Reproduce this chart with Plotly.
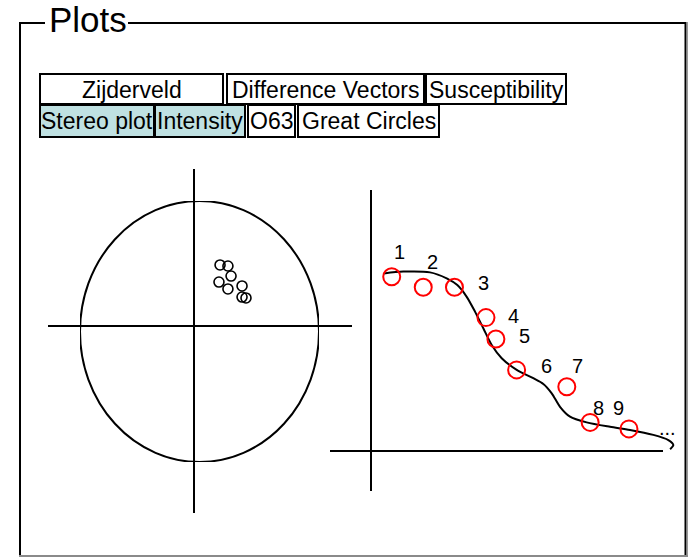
import plotly.graph_objects as go

W, H = 697, 557

# ---------------- data ----------------
# Stereo plot: projected directions (east, north) on the unit net
stereo_east = [0.172, 0.238, 0.264, 0.163, 0.238, 0.356, 0.356, 0.389]
stereo_north = [0.510, 0.502, 0.425, 0.379, 0.326, 0.349, 0.264, 0.257]

# Intensity plot: demagnetisation steps
step_field = [7.1, 17.9, 28.6, 39.4, 42.8, 49.9, 67.1, 75.1, 88.4]
step_intensity = [0.670, 0.630, 0.630, 0.513, 0.431, 0.312, 0.247, 0.110, 0.085]
step_labels = ["1", "2", "3", "4", "5", "6", "7", "8", "9"]

# Fitted intensity curve
fit_field = [4.45, 11.07, 20.22, 25.94, 29.58, 32.80, 35.64, 38.49, 41.36, 44.79,
             49.93, 55.62, 59.05, 61.93, 64.77, 68.20, 73.92, 81.91, 88.76, 96.75,
             101.9, 103.6, 102.5]
fit_intensity = [0.683, 0.690, 0.687, 0.664, 0.638, 0.593, 0.536, 0.472, 0.408, 0.357,
                 0.312, 0.280, 0.258, 0.222, 0.170, 0.132, 0.110, 0.093, 0.081, 0.062,
                 0.042, 0.023, 0.007]

# Tabs
tab_row1 = ["Zijderveld", "Difference Vectors", "Susceptibility"]
tab_row2 = ["Stereo plot", "Intensity", "O63", "Great Circles"]
tab_row2_active = [True, True, False, False]

# ---------------- layout helpers (pixel -> paper) ----------------
def X(px):
    return px / W

def Y(py):
    return 1 - py / H

FONT = "Liberation Sans, Arial, sans-serif"
TAB_FILL = "#bfe1e2"

fig = go.Figure()

# stereo plot points
fig.add_trace(go.Scatter(
    x=stereo_east, y=stereo_north, mode="markers",
    marker=dict(symbol="circle-open", size=10, color="black", line=dict(width=1.6)),
    xaxis="x", yaxis="y", showlegend=False, hoverinfo="skip"))

# intensity fitted curve
fig.add_trace(go.Scatter(
    x=fit_field, y=fit_intensity, mode="lines",
    line=dict(color="black", width=2, shape="spline", smoothing=0.8),
    xaxis="x2", yaxis="y2", showlegend=False, hoverinfo="skip"))

# intensity points
fig.add_trace(go.Scatter(
    x=step_field, y=step_intensity, mode="markers",
    marker=dict(symbol="circle-open", size=17, color="red", line=dict(width=2)),
    xaxis="x2", yaxis="y2", showlegend=False, hoverinfo="skip", cliponaxis=False))

shapes = []
annotations = []

def line(x0, y0, x1, y1, color="black", width=2):
    shapes.append(dict(type="line", xref="paper", yref="paper",
                       x0=X(x0), y0=Y(y0), x1=X(x1), y1=Y(y1),
                       line=dict(color=color, width=width)))

# outer group frame
line(19, 23, 45, 23)
line(128, 23, 686, 23)
line(20, 22, 20, 556)
line(685.5, 22, 685.5, 556)
line(687.5, 22, 687.5, 557, color="#9a9a9a", width=1)
line(19, 556, 688, 556, color="#8a8a8a", width=2)

annotations.append(dict(text="Plots", xref="paper", yref="paper",
                        x=X(87.5), y=Y(19), xanchor="center", yanchor="middle",
                        showarrow=False, font=dict(family=FONT, size=35, color="black")))

# tabs
row1_boxes = [(40, 223), (227, 424), (426, 566)]
row2_boxes = [(40, 154), (155, 245), (248, 295), (298, 439)]
for label, (a, b) in zip(tab_row1, row1_boxes):
    shapes.append(dict(type="rect", xref="paper", yref="paper",
                       x0=X(a), x1=X(b), y0=Y(104), y1=Y(74),
                       fillcolor="white", line=dict(color="black", width=2)))
    annotations.append(dict(text=label, xref="paper", yref="paper",
                            x=X((a + b) / 2), y=Y(89.5), xanchor="center", yanchor="middle",
                            showarrow=False, font=dict(family=FONT, size=23, color="black")))
for label, active, (a, b) in zip(tab_row2, tab_row2_active, row2_boxes):
    shapes.append(dict(type="rect", xref="paper", yref="paper",
                       x0=X(a), x1=X(b), y0=Y(137), y1=Y(105),
                       fillcolor=TAB_FILL if active else "white",
                       line=dict(color="black", width=2)))
    annotations.append(dict(text=label, xref="paper", yref="paper",
                            x=X((a + b) / 2), y=Y(121), xanchor="center", yanchor="middle",
                            showarrow=False, font=dict(family=FONT, size=23, color="black")))

# stereo net
shapes.append(dict(type="circle", xref="x", yref="y", x0=-1, x1=1, y0=-1, y1=1,
                   line=dict(color="black", width=2), layer="below"))
line(48, 326, 352, 326)
line(194, 169, 194, 513)

# intensity axes
line(371, 190, 371, 491)
line(330, 451, 663, 451)

# step labels
label_shift = [(8, 25), (9, 25), (29, 4), (28, 2), (29, 3), (30, 4), (11, 21), (8, 14), (-10, 21)]
for lab, fx, fy, (dx, dy) in zip(step_labels, step_field, step_intensity, label_shift):
    annotations.append(dict(text=lab, xref="x2", yref="y2", x=fx, y=fy,
                            xshift=dx, yshift=dy, xanchor="center", yanchor="middle",
                            showarrow=False, font=dict(family=FONT, size=20, color="black")))
annotations.append(dict(text="...", xref="paper", yref="paper", x=X(667), y=Y(428),
                        xanchor="center", yanchor="middle", showarrow=False,
                        font=dict(family=FONT, size=20, color="black")))

hidden = dict(visible=False, showgrid=False, zeroline=False, fixedrange=True)
fig.update_layout(
    width=W, height=H,
    margin=dict(l=0, r=0, t=0, b=0),
    paper_bgcolor="white", plot_bgcolor="rgba(0,0,0,0)",
    xaxis=dict(domain=[X(80), X(319)], range=[-1, 1], anchor="y", **hidden),
    yaxis=dict(domain=[Y(462), Y(201)], range=[-1, 1], anchor="x", **hidden),
    xaxis2=dict(domain=[X(371), X(692)], range=[0, 110], anchor="y2", **hidden),
    yaxis2=dict(domain=[Y(451), Y(191)], range=[0, 1], anchor="x2", **hidden),
    shapes=shapes, annotations=annotations, showlegend=False,
)

fig.write_html("out.html", config={"displayModeBar": False},
               post_script="document.body.style.margin='0px';document.body.style.overflow='hidden';")
